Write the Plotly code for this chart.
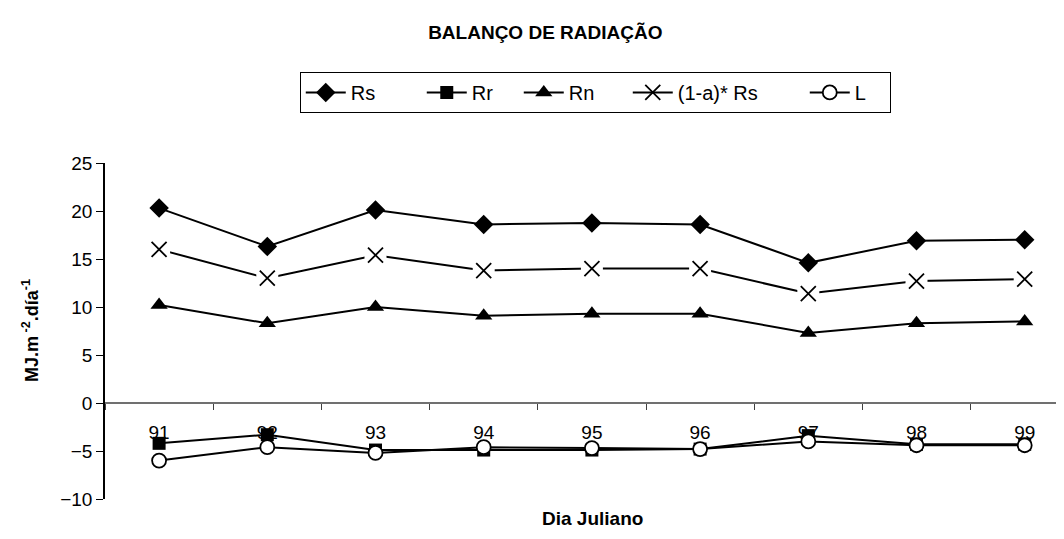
import plotly.graph_objects as go

# Dias julianos e componentes do balanço de radiação (MJ.m-2.dia-1)
dias = ['91', '92', '93', '94', '95', '96', '97', '98', '99']
rs = [20.3, 16.3, 20.1, 18.6, 18.75, 18.6, 14.6, 16.9, 17.0]
rr = [-4.2, -3.3, -4.9, -4.9, -4.9, -4.8, -3.4, -4.3, -4.3]
rn = [10.2, 8.3, 10.0, 9.1, 9.3, 9.3, 7.3, 8.3, 8.5]
rs_abs = [16.0, 13.0, 15.4, 13.8, 14.0, 14.0, 11.4, 12.7, 12.9]
ll = [-6.0, -4.6, -5.2, -4.6, -4.7, -4.8, -4.0, -4.4, -4.4]

fonte = 'Liberation Sans, Arial, sans-serif'
linha = dict(color='black', width=2)
marca_x = dict(symbol='x-thin', size=15, line=dict(color='black', width=1.8))

fig = go.Figure()
fig.add_trace(go.Scatter(x=dias, y=rs, name='Rs', mode='lines+markers', line=linha,
                         legendwidth=66,
                         marker=dict(symbol='diamond', size=15, color='black')))
fig.add_trace(go.Scatter(x=dias, y=rr, name='Rr', mode='lines+markers', line=linha,
                         legendwidth=42,
                         marker=dict(symbol='square', size=13, color='black')))
fig.add_trace(go.Scatter(x=dias, y=rn, name='Rn', mode='lines+markers', line=linha,
                         legendwidth=54,
                         marker=dict(symbol='triangle-up', size=15, color='black')))
fig.add_trace(go.Scatter(x=dias, y=rs_abs, name='(1-a)* Rs', mode='lines+markers', line=linha,
                         legendwidth=122, marker=marca_x))
# fundo branco em volta do X (a linha não encosta no marcador, como no original)
fig.add_trace(go.Scatter(x=dias, y=rs_abs, mode='markers', showlegend=False, hoverinfo='skip',
                         marker=dict(symbol='square', size=22, color='white')))
fig.add_trace(go.Scatter(x=dias, y=rs_abs, mode='markers', showlegend=False,
                         name='(1-a)* Rs', marker=marca_x))
fig.add_trace(go.Scatter(x=dias, y=ll, name='L', mode='lines+markers', line=linha,
                         legendwidth=30,
                         marker=dict(symbol='circle', size=14, color='white',
                                     line=dict(color='black', width=1.8))))

x_fim = -0.5 + 967 / 108.2
pos_zero = 10 / 35

fig.update_layout(
    width=1064, height=539,
    margin=dict(l=97, r=0, t=155, b=48),
    paper_bgcolor='white', plot_bgcolor='white',
    font=dict(family=fonte, size=19, color='black'),
    title=dict(text='<b>BALANÇO DE RADIAÇÃO</b>', x=0.505, xanchor='center',
               y=0.955, yanchor='middle', font=dict(size=19)),
    showlegend=True,
    legend=dict(orientation='h', x=0.507, xanchor='center', y=1.271, yanchor='top',
                bordercolor='black', borderwidth=1, font=dict(size=20),
                itemwidth=40, tracegroupgap=0),
    xaxis=dict(type='category', range=[-0.5, x_fim], anchor='free', position=pos_zero,
               showline=True, linecolor='#707070', linewidth=1.5,
               ticks='outside', ticklen=6, tickcolor='#404040', tickson='boundaries',
               ticklabelstandoff=12, showgrid=False, zeroline=False, layer='below traces'),
    xaxis2=dict(overlaying='x', range=[-0.5, x_fim], anchor='free', position=pos_zero,
                tickmode='array', tickvals=[0.5, 1.5, 2.5, 3.5, 4.5, 5.5, 6.5, 7.5],
                ticks='inside', ticklen=6, tickcolor='#404040', showticklabels=False,
                showline=False, showgrid=False, zeroline=False),
    yaxis=dict(range=[-10, 25], dtick=5, showline=True, linecolor='black', linewidth=1.5,
               ticks='outside', ticklen=7, tickcolor='black', showgrid=False, zeroline=False),
    yaxis2=dict(overlaying='y', range=[-10, 25], dtick=5, anchor='x', side='left',
                ticks='inside', ticklen=6, tickcolor='black', showticklabels=False,
                showline=False, showgrid=False, zeroline=False),
    annotations=[
        dict(text='<b>MJ.m<sup> -2</sup>.día<sup>-1</sup></b>', textangle=-90,
             xref='paper', yref='paper', x=(22 - 97) / 967, y=0.5,
             xanchor='center', yanchor='middle', showarrow=False, font=dict(size=18)),
        dict(text='<b>Dia Juliano</b>', xref='paper', yref='paper',
             x=(584 - 97) / 967, y=-(510 - 491) / 336, xanchor='center', yanchor='middle',
             showarrow=False, font=dict(size=19)),
    ],
)

fig.write_html('out.html')
